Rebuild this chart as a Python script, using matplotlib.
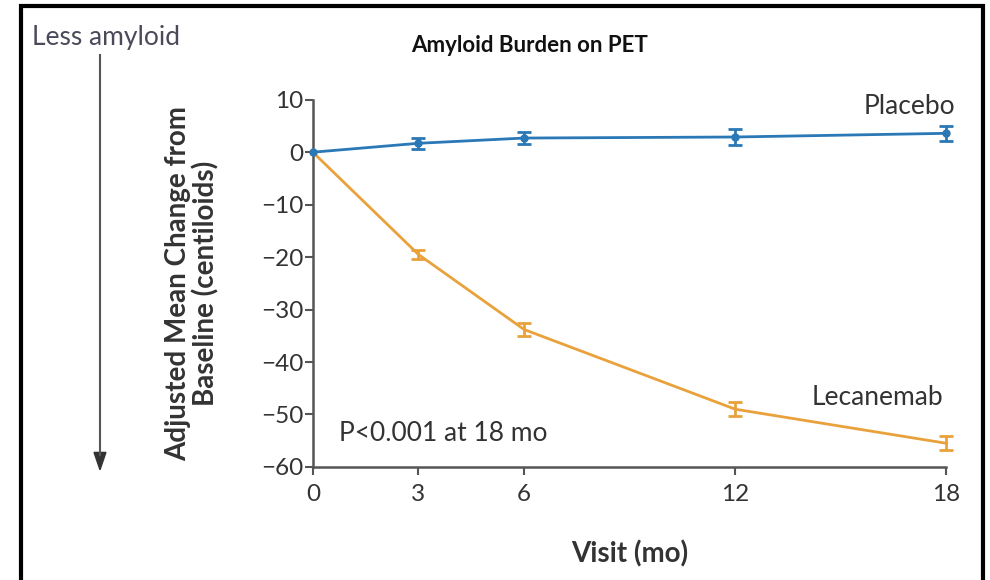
import numpy as np
import matplotlib.pyplot as plt
from matplotlib.patches import Rectangle

plt.rcParams['font.family'] = ['Lato', 'DejaVu Sans']

# data
visits = [0, 3, 6, 12, 18]
placebo = [0.0, 1.7, 2.7, 2.9, 3.6]
placebo_err = [0.0, 1.1, 1.1, 1.6, 1.4]
lecanemab = [0.0, -19.5, -33.8, -49.0, -55.5]
lecanemab_err = [0.0, 0.9, 1.2, 1.3, 1.3]
x_ticks = [0, 3, 6, 12, 18]
y_ticks = [10, 0, -10, -20, -30, -40, -50, -60]

blue = '#2a78b6'
orange = '#e9a23b'
grey_text = '#333333'

fig = plt.figure(figsize=(9.9, 5.8), dpi=100)
ax = fig.add_axes([0.316, 0.195, 0.640, 0.633])

# no error bar at baseline
ax.errorbar(visits[1:], lecanemab[1:], yerr=lecanemab_err[1:], color=orange,
            lw=2, capsize=5, capthick=2, elinewidth=2, fmt='none', clip_on=False)
ax.plot(visits, lecanemab, color=orange, lw=2, clip_on=False)
ax.errorbar(visits[1:], placebo[1:], yerr=placebo_err[1:], color=blue,
            lw=2, capsize=5, capthick=2, elinewidth=2, fmt='none', clip_on=False)
ax.plot(visits, placebo, color=blue, lw=2, marker='o', ms=5, clip_on=False, zorder=3)

ax.set_xlim(0, 18)
ax.set_ylim(-60, 10)
ax.set_xticks(x_ticks)
ax.set_yticks(y_ticks)
ax.set_yticklabels([str(v).replace('-', '\u2212') for v in y_ticks])
for s in ['top', 'right']:
    ax.spines[s].set_visible(False)
for s in ['left', 'bottom']:
    ax.spines[s].set_color('#555555')
    ax.spines[s].set_linewidth(1.8)
ax.tick_params(axis='both', direction='out', length=6, width=1.5, color='#555555',
               labelsize=17.5, labelcolor=grey_text)
ax.tick_params(axis='y', pad=1)
ax.tick_params(axis='x', pad=6)

ax.set_xlabel('Visit (mo)', fontsize=20, fontweight='bold', color=grey_text, labelpad=26)
ax.set_ylabel('Adjusted Mean Change from\nBaseline (centiloids)', fontsize=20,
              fontweight='bold', color=grey_text, labelpad=30, linespacing=1.05)

ax.text(18.25, 8.8, 'Placebo', fontsize=19, color=grey_text, ha='right', va='center')
ax.text(17.9, -46.7, 'Lecanemab', fontsize=19, color=grey_text, ha='right', va='center')
ax.text(0.75, -53.7, 'P<0.001 at 18 mo', fontsize=19, color=grey_text, ha='left', va='center')

fig.text(0.535, 0.922, 'Amyloid Burden on PET', fontsize=16, fontweight='bold',
         color='#111111', ha='center', va='center')
fig.text(0.032, 0.935, 'Less amyloid', fontsize=19, color='#4a4a5a', ha='left', va='center')
fig.add_artist(plt.Line2D([0.101, 0.101], [0.905, 0.215], color='#555555', lw=1.5))
fig.patches.append(plt.Polygon([[0.095, 0.22], [0.107, 0.22], [0.101, 0.19]],
                               closed=True, color='#333333', transform=fig.transFigure))

# frame around the panel
fig.patches.append(Rectangle((0.021, -0.02), 0.972, 1.01, fill=False, lw=3,
                             edgecolor='black', transform=fig.transFigure))

fig.savefig('out.png', dpi=100)
